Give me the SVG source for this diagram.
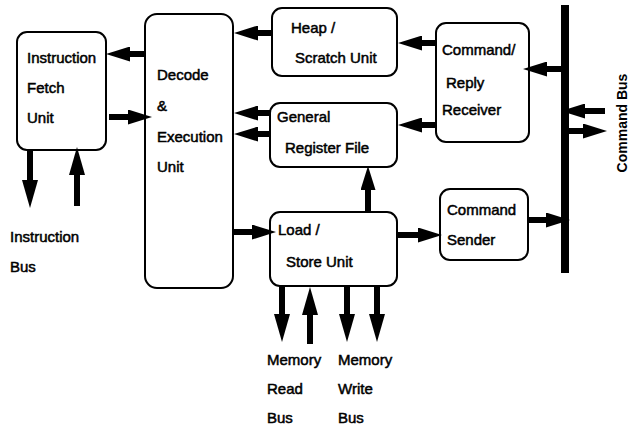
<svg xmlns="http://www.w3.org/2000/svg" width="637" height="427" viewBox="0 0 637 427">
  <style>
    .box { fill: none; stroke: #000; stroke-width: 2; }
    .lbl { font-family: "Liberation Sans", Arial, sans-serif; font-size: 15px; fill: #000; stroke: #000; stroke-width: 0.5; }
    .bus { font-family: "Liberation Sans", Arial, sans-serif; font-size: 14px; font-weight: bold; fill: #000; }
    .wire { fill: none; stroke: #000; stroke-width: 6; }
    .wire.h { marker-end: url(#ah); }
    .wire.v { marker-end: url(#av); }
  </style>
  <defs>
    <marker id="ah" markerUnits="userSpaceOnUse" markerWidth="24" markerHeight="15" refX="1" refY="7.5" orient="auto">
      <path d="M0,0 L24,7.5 L0,15 z" fill="#000"/>
    </marker>
    <marker id="av" markerUnits="userSpaceOnUse" markerWidth="28" markerHeight="16" refX="1" refY="8" orient="auto">
      <path d="M0,0 L28,8 L0,16 z" fill="#000"/>
    </marker>
  </defs>

  <rect width="637" height="427" fill="#fff"/>

  <!-- units -->
  <g id="fetch">
    <rect class="box" x="17" y="32" width="89" height="118" rx="10"/>
    <text class="lbl" x="27" y="63">Instruction</text>
    <text class="lbl" x="27" y="93">Fetch</text>
    <text class="lbl" x="27" y="123">Unit</text>
  </g>
  <g id="decode">
    <rect class="box" x="145" y="14" width="88" height="274" rx="12"/>
    <text class="lbl" x="157" y="80">Decode</text>
    <text class="lbl" x="157" y="111">&amp;</text>
    <text class="lbl" x="157" y="142">Execution</text>
    <text class="lbl" x="157" y="172">Unit</text>
  </g>
  <g id="heap">
    <rect class="box" x="272" y="8" width="125" height="68" rx="10"/>
    <text class="lbl" x="291" y="33">Heap /</text>
    <text class="lbl" x="295" y="63">Scratch Unit</text>
  </g>
  <g id="regfile">
    <rect class="box" x="270" y="103" width="127" height="64" rx="10"/>
    <text class="lbl" x="277" y="122">General</text>
    <text class="lbl" x="285" y="153">Register File</text>
  </g>
  <g id="loadstore">
    <rect class="box" x="270" y="212" width="127" height="74" rx="10"/>
    <text class="lbl" x="278" y="235">Load /</text>
    <text class="lbl" x="286" y="267">Store Unit</text>
  </g>
  <g id="receiver">
    <rect class="box" x="436" y="23" width="93" height="119" rx="10"/>
    <text class="lbl" x="442" y="55">Command/</text>
    <text class="lbl" x="446" y="88">Reply</text>
    <text class="lbl" x="442" y="115">Receiver</text>
  </g>
  <g id="sender">
    <rect class="box" x="440" y="189" width="88" height="71" rx="10"/>
    <text class="lbl" x="447" y="215">Command</text>
    <text class="lbl" x="447" y="245">Sender</text>
  </g>
  <g id="command-bus">
    <rect x="561" y="5" width="8" height="268" fill="#000"/>
    <text class="bus" transform="translate(627,123) rotate(-90)" text-anchor="middle">Command Bus</text>
  </g>
  <g id="instruction-bus">
    <text class="lbl" x="10" y="242">Instruction</text>
    <text class="lbl" x="10" y="272">Bus</text>
  </g>
  <g id="memory-read-bus">
    <text class="lbl" x="267" y="365">Memory</text>
    <text class="lbl" x="267" y="394">Read</text>
    <text class="lbl" x="267" y="423">Bus</text>
  </g>
  <g id="memory-write-bus">
    <text class="lbl" x="338" y="365">Memory</text>
    <text class="lbl" x="338" y="394">Write</text>
    <text class="lbl" x="338" y="423">Bus</text>
  </g>

  <!-- connectors -->
  <g id="connectors">
    <path class="wire h" d="M145,54 H129"/>
    <path class="wire h" d="M109,117 H129"/>
    <path class="wire v" d="M30,150 V181"/>
    <path class="wire v" d="M77,206 V174"/>
    <path class="wire h" d="M272,33 H257"/>
    <path class="wire h" d="M270,113 H257"/>
    <path class="wire h" d="M270,134 H257"/>
    <path class="wire h" d="M233,232 H253"/>
    <path class="wire h" d="M368,212 V189"/>
    <path class="wire h" d="M436,43 H421"/>
    <path class="wire h" d="M436,125 H421"/>
    <path class="wire h" d="M561,69 H546"/>
    <path class="wire h" d="M605,111 H584"/>
    <path class="wire h" d="M569,131 H584"/>
    <path class="wire h" d="M397,235 H419"/>
    <path class="wire h" d="M528,220 H547"/>
    <path class="wire v" d="M282,286 V315"/>
    <path class="wire v" d="M310,344 V314"/>
    <path class="wire v" d="M347,286 V315"/>
    <path class="wire v" d="M377,286 V315"/>
  </g>
</svg>
